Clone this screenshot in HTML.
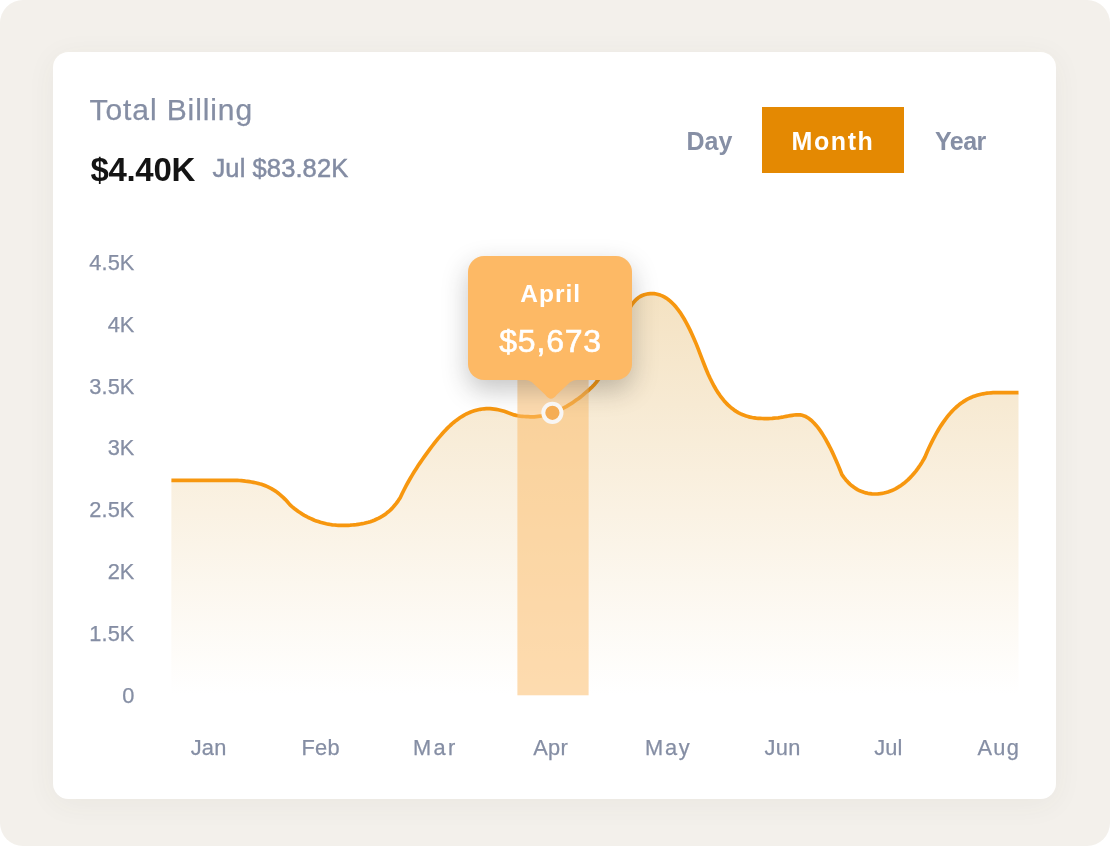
<!DOCTYPE html>
<html lang="en">
<head>
<meta charset="utf-8">
<title>Total Billing</title>
<style>
  html,body{margin:0;padding:0;background:#fff;}
  body{width:1110px;height:847px;position:relative;overflow:hidden;font-family:"Liberation Sans",sans-serif;}
  .bg{position:absolute;left:0;top:0;width:1109.5px;height:846.4px;background:#f3f0eb;border-radius:23px;}
  .card{position:absolute;left:52.9px;top:52.2px;width:1003.4px;height:747px;background:#fff;border-radius:15.5px;box-shadow:0 5px 30px rgba(70,65,50,0.055);}
  .t{position:absolute;white-space:nowrap;line-height:1;}
  .title{left:89.6px;top:95.3px;font-size:30px;color:#858ea4;letter-spacing:0.9px;-webkit-text-stroke:0.25px #858ea4;}
  .amount{left:90.4px;top:152.9px;font-size:33px;font-weight:bold;color:#141414;letter-spacing:-0.3px;}
  .sub{left:212.5px;top:155.9px;font-size:25.5px;color:#838ca3;letter-spacing:0.1px;-webkit-text-stroke:0.5px #838ca3;}
  .tab{font-size:25px;font-weight:bold;color:#868fa5;top:128.8px;}
  .tab.active{color:#fff;}
  .btn{position:absolute;left:761.8px;top:106.85px;width:142px;height:66.65px;background:#e48902;}
  .yl{font-size:21.8px;color:#858ea4;-webkit-text-stroke:0.25px #858ea4;text-align:right;width:60px;left:74.5px;letter-spacing:0.1px;}
  .xl{font-size:21.8px;color:#858ea4;-webkit-text-stroke:0.25px #858ea4;top:736.8px;letter-spacing:0.3px;transform:translateX(-50%);}
  svg{position:absolute;left:0;top:0;}
  .tip{position:absolute;left:468.4px;top:256.4px;width:163.65px;height:123.65px;background:#fdb965;border-radius:16px;box-shadow:0 10px 26px rgba(40,40,40,0.27);}
  .tipm{left:468.4px;width:163.65px;text-align:center;color:#fff;}
</style>
</head>
<body>
<div class="bg"></div>
<div class="card"></div>

<div class="t title">Total Billing</div>
<div class="t amount">$4.40K</div>
<div class="t sub">Jul $83.82K</div>

<div class="t tab" style="left:686.5px">Day</div>
<div class="btn"></div>
<div class="t tab active" style="left:791.5px;letter-spacing:1.6px">Month</div>
<div class="t tab" style="left:935px;letter-spacing:-0.5px">Year</div>

<div class="t yl" style="top:251.7px">4.5K</div>
<div class="t yl" style="top:313.6px">4K</div>
<div class="t yl" style="top:375.5px">3.5K</div>
<div class="t yl" style="top:437.4px">3K</div>
<div class="t yl" style="top:499.3px">2.5K</div>
<div class="t yl" style="top:561.2px">2K</div>
<div class="t yl" style="top:623.1px">1.5K</div>
<div class="t yl" style="top:685.0px">0</div>

<svg width="1110" height="847" viewBox="0 0 1110 847">
  <defs>
    <linearGradient id="ga" x1="0" y1="293" x2="0" y2="695" gradientUnits="userSpaceOnUse">
      <stop offset="0" stop-color="#f4e2c2"/>
      <stop offset="1" stop-color="#ffffff"/>
    </linearGradient>
  </defs>
  <path fill="url(#ga)" d="M171.4,480.4 L173.4,480.4 L175.4,480.4 L177.4,480.4 L179.4,480.4 L181.4,480.4 L183.4,480.4 L185.4,480.4 L187.4,480.4 L189.4,480.4 L191.4,480.4 L193.4,480.4 L195.4,480.4 L197.4,480.4 L199.4,480.4 L201.4,480.4 L203.4,480.4 L205.4,480.4 L207.4,480.4 L209.4,480.4 L211.4,480.4 L213.4,480.4 L215.4,480.4 L217.4,480.4 L219.4,480.4 L221.4,480.4 L223.4,480.4 L225.4,480.4 L227.4,480.4 L229.4,480.4 L231.4,480.4 L233.4,480.4 L235.4,480.4 L237.4,480.4 L239.4,480.5 L241.4,480.7 L243.4,480.9 L245.4,481.2 L247.4,481.4 L249.4,481.7 L251.4,482.0 L253.4,482.4 L255.4,482.8 L257.4,483.2 L259.4,483.8 L261.4,484.3 L263.4,485.0 L265.4,485.8 L267.4,486.6 L269.4,487.6 L271.4,488.6 L273.4,489.8 L275.4,491.1 L277.4,492.5 L279.4,494.1 L281.4,495.8 L283.4,497.6 L285.4,499.6 L287.4,501.8 L289.4,504.1 L290.3,505.2 L292.3,506.9 L294.3,508.5 L296.3,510.0 L298.3,511.5 L300.3,512.8 L302.3,514.1 L304.3,515.3 L306.3,516.4 L308.3,517.5 L310.3,518.4 L312.3,519.3 L314.3,520.2 L316.3,520.9 L318.3,521.6 L320.3,522.3 L322.3,522.8 L324.3,523.3 L326.3,523.8 L328.3,524.2 L330.3,524.5 L332.3,524.8 L334.3,525.0 L336.3,525.2 L338.3,525.3 L340.3,525.4 L342.3,525.4 L344.3,525.4 L346.3,525.4 L348.3,525.3 L350.3,525.2 L352.3,525.0 L354.3,524.8 L356.3,524.6 L358.3,524.3 L360.3,524.0 L362.3,523.7 L364.3,523.3 L366.3,522.8 L368.3,522.3 L370.3,521.7 L372.3,521.0 L374.3,520.2 L376.3,519.3 L378.3,518.4 L380.3,517.3 L382.3,516.2 L384.3,514.9 L386.3,513.4 L388.3,511.8 L390.3,510.1 L392.3,508.1 L394.3,505.8 L396.3,503.4 L398.3,500.6 L400.2,497.7 L402.2,493.5 L404.2,489.5 L406.2,485.7 L408.2,482.0 L410.2,478.5 L412.2,475.1 L414.2,471.8 L416.2,468.7 L418.2,465.6 L420.2,462.6 L422.2,459.7 L424.2,456.9 L426.2,454.1 L428.2,451.4 L430.2,448.7 L432.2,446.0 L434.2,443.4 L436.2,440.9 L438.2,438.4 L440.2,436.1 L442.2,433.8 L444.2,431.6 L446.2,429.4 L448.2,427.4 L450.2,425.5 L452.2,423.7 L454.2,422.0 L456.2,420.4 L458.2,418.9 L460.2,417.5 L462.2,416.3 L464.2,415.1 L466.2,414.0 L468.2,413.1 L470.2,412.2 L472.2,411.4 L474.2,410.8 L476.2,410.2 L478.2,409.7 L480.2,409.3 L482.2,409.0 L484.2,408.8 L486.2,408.7 L488.2,408.7 L490.2,408.7 L492.2,408.9 L494.2,409.1 L496.2,409.4 L498.2,409.8 L500.2,410.2 L502.2,410.7 L504.2,411.3 L506.2,412.0 L508.2,412.8 L510.2,413.5 L512.2,414.2 L514.2,414.9 L516.2,415.4 L518.2,415.8 L520.2,416.1 L522.2,416.3 L524.2,416.5 L526.2,416.6 L528.2,416.7 L530.2,416.8 L532.2,416.8 L534.2,416.8 L536.2,416.6 L538.2,416.4 L540.2,416.2 L542.2,415.8 L544.2,415.4 L546.2,414.9 L548.2,414.4 L550.2,413.8 L552.2,413.1 L554.2,412.3 L556.2,411.5 L558.2,410.6 L560.2,409.7 L562.2,408.7 L564.2,407.7 L566.2,406.6 L568.2,405.4 L570.2,404.2 L572.2,402.9 L574.2,401.5 L576.2,400.1 L578.2,398.7 L580.2,397.2 L582.2,395.6 L584.2,393.9 L586.2,392.2 L588.2,390.5 L590.2,388.7 L592.2,386.8 L594.2,384.7 L596.2,382.4 L598.2,379.7 L600.2,376.5 L602.2,372.8 L604.2,368.7 L606.2,364.3 L608.2,359.6 L610.2,354.6 L612.2,349.5 L614.2,344.3 L616.2,339.0 L618.2,333.8 L620.2,328.7 L622.2,323.8 L624.2,319.1 L626.2,314.8 L628.2,310.8 L630.2,307.2 L632.2,304.1 L634.2,301.6 L636.2,299.5 L638.2,297.8 L640.2,296.5 L642.2,295.5 L644.2,294.7 L646.2,294.2 L648.2,293.8 L650.2,293.6 L652.2,293.6 L654.2,293.7 L656.2,294.0 L658.2,294.5 L660.2,295.1 L662.2,295.9 L664.2,296.9 L666.2,298.1 L668.2,299.5 L670.2,301.1 L672.2,303.0 L674.2,305.0 L676.2,307.3 L678.2,309.9 L680.2,312.6 L682.2,315.7 L684.2,319.0 L686.2,322.6 L688.2,326.4 L690.2,330.4 L692.2,334.7 L694.2,339.2 L696.2,343.9 L698.2,348.9 L700.2,354.1 L702.2,359.3 L704.2,364.5 L706.2,369.5 L708.2,374.2 L710.2,378.5 L712.2,382.5 L714.2,386.3 L716.2,389.7 L718.2,392.9 L720.2,395.8 L722.2,398.4 L724.2,400.9 L726.2,403.1 L728.2,405.1 L730.2,406.9 L732.2,408.6 L734.2,410.1 L736.2,411.4 L738.2,412.6 L740.2,413.6 L742.2,414.5 L744.2,415.3 L746.2,416.0 L748.2,416.6 L750.2,417.1 L752.2,417.5 L754.2,417.8 L756.2,418.1 L758.2,418.3 L760.2,418.4 L762.2,418.5 L764.2,418.6 L766.2,418.6 L768.2,418.6 L770.2,418.5 L772.2,418.4 L774.2,418.2 L776.2,418.0 L778.2,417.8 L780.2,417.5 L782.2,417.2 L784.2,416.8 L786.2,416.4 L788.2,416.0 L790.2,415.6 L792.2,415.3 L794.2,415.0 L796.2,414.8 L798.2,414.8 L800.2,414.9 L802.2,415.3 L804.2,415.9 L806.2,416.8 L808.2,418.0 L810.2,419.5 L812.2,421.2 L814.2,423.2 L816.2,425.4 L818.2,427.9 L820.2,430.7 L822.2,433.6 L824.2,436.9 L826.2,440.3 L828.2,444.0 L830.2,447.8 L832.2,451.9 L834.2,456.2 L836.2,460.7 L838.2,465.4 L840.2,470.3 L841.9,474.6 L843.9,477.4 L845.9,479.9 L847.9,482.1 L849.9,484.1 L851.9,485.8 L853.9,487.3 L855.9,488.6 L857.9,489.8 L859.9,490.8 L861.9,491.6 L863.9,492.3 L865.9,492.9 L867.9,493.3 L869.9,493.6 L871.9,493.9 L873.9,494.0 L875.9,494.0 L877.9,493.9 L879.9,493.7 L881.9,493.4 L883.9,493.0 L885.9,492.5 L887.9,491.9 L889.9,491.2 L891.9,490.5 L893.9,489.6 L895.9,488.6 L897.9,487.4 L899.9,486.2 L901.9,484.8 L903.9,483.3 L905.9,481.6 L907.9,479.9 L909.9,477.9 L911.9,475.8 L913.9,473.5 L915.9,471.1 L917.9,468.4 L919.9,465.5 L921.9,462.4 L923.9,459.0 L925.0,457.0 L927.0,452.3 L929.0,447.8 L931.0,443.6 L933.0,439.6 L935.0,435.8 L937.0,432.2 L939.0,428.8 L941.0,425.6 L943.0,422.6 L945.0,419.8 L947.0,417.2 L949.0,414.7 L951.0,412.4 L953.0,410.3 L955.0,408.3 L957.0,406.5 L959.0,404.8 L961.0,403.3 L963.0,401.9 L965.0,400.6 L967.0,399.4 L969.0,398.4 L971.0,397.5 L973.0,396.6 L975.0,395.9 L977.0,395.3 L979.0,394.7 L981.0,394.2 L983.0,393.8 L985.0,393.5 L987.0,393.2 L989.0,393.0 L991.0,392.8 L993.0,392.7 L995.0,392.7 L997.0,392.7 L999.0,392.7 L1001.0,392.7 L1003.0,392.7 L1005.0,392.7 L1007.0,392.7 L1009.0,392.7 L1011.0,392.7 L1013.0,392.7 L1015.0,392.7 L1017.0,392.7 L1018.5,392.7 L1018.5,695.3 L171.3,695.3 Z"/>
  <path fill="none" stroke="#f7970f" stroke-width="3.7" stroke-linejoin="round" d="M171.4,480.4 L173.4,480.4 L175.4,480.4 L177.4,480.4 L179.4,480.4 L181.4,480.4 L183.4,480.4 L185.4,480.4 L187.4,480.4 L189.4,480.4 L191.4,480.4 L193.4,480.4 L195.4,480.4 L197.4,480.4 L199.4,480.4 L201.4,480.4 L203.4,480.4 L205.4,480.4 L207.4,480.4 L209.4,480.4 L211.4,480.4 L213.4,480.4 L215.4,480.4 L217.4,480.4 L219.4,480.4 L221.4,480.4 L223.4,480.4 L225.4,480.4 L227.4,480.4 L229.4,480.4 L231.4,480.4 L233.4,480.4 L235.4,480.4 L237.4,480.4 L239.4,480.5 L241.4,480.7 L243.4,480.9 L245.4,481.2 L247.4,481.4 L249.4,481.7 L251.4,482.0 L253.4,482.4 L255.4,482.8 L257.4,483.2 L259.4,483.8 L261.4,484.3 L263.4,485.0 L265.4,485.8 L267.4,486.6 L269.4,487.6 L271.4,488.6 L273.4,489.8 L275.4,491.1 L277.4,492.5 L279.4,494.1 L281.4,495.8 L283.4,497.6 L285.4,499.6 L287.4,501.8 L289.4,504.1 L290.3,505.2 L292.3,506.9 L294.3,508.5 L296.3,510.0 L298.3,511.5 L300.3,512.8 L302.3,514.1 L304.3,515.3 L306.3,516.4 L308.3,517.5 L310.3,518.4 L312.3,519.3 L314.3,520.2 L316.3,520.9 L318.3,521.6 L320.3,522.3 L322.3,522.8 L324.3,523.3 L326.3,523.8 L328.3,524.2 L330.3,524.5 L332.3,524.8 L334.3,525.0 L336.3,525.2 L338.3,525.3 L340.3,525.4 L342.3,525.4 L344.3,525.4 L346.3,525.4 L348.3,525.3 L350.3,525.2 L352.3,525.0 L354.3,524.8 L356.3,524.6 L358.3,524.3 L360.3,524.0 L362.3,523.7 L364.3,523.3 L366.3,522.8 L368.3,522.3 L370.3,521.7 L372.3,521.0 L374.3,520.2 L376.3,519.3 L378.3,518.4 L380.3,517.3 L382.3,516.2 L384.3,514.9 L386.3,513.4 L388.3,511.8 L390.3,510.1 L392.3,508.1 L394.3,505.8 L396.3,503.4 L398.3,500.6 L400.2,497.7 L402.2,493.5 L404.2,489.5 L406.2,485.7 L408.2,482.0 L410.2,478.5 L412.2,475.1 L414.2,471.8 L416.2,468.7 L418.2,465.6 L420.2,462.6 L422.2,459.7 L424.2,456.9 L426.2,454.1 L428.2,451.4 L430.2,448.7 L432.2,446.0 L434.2,443.4 L436.2,440.9 L438.2,438.4 L440.2,436.1 L442.2,433.8 L444.2,431.6 L446.2,429.4 L448.2,427.4 L450.2,425.5 L452.2,423.7 L454.2,422.0 L456.2,420.4 L458.2,418.9 L460.2,417.5 L462.2,416.3 L464.2,415.1 L466.2,414.0 L468.2,413.1 L470.2,412.2 L472.2,411.4 L474.2,410.8 L476.2,410.2 L478.2,409.7 L480.2,409.3 L482.2,409.0 L484.2,408.8 L486.2,408.7 L488.2,408.7 L490.2,408.7 L492.2,408.9 L494.2,409.1 L496.2,409.4 L498.2,409.8 L500.2,410.2 L502.2,410.7 L504.2,411.3 L506.2,412.0 L508.2,412.8 L510.2,413.5 L512.2,414.2 L514.2,414.9 L516.2,415.4 L518.2,415.8 L520.2,416.1 L522.2,416.3 L524.2,416.5 L526.2,416.6 L528.2,416.7 L530.2,416.8 L532.2,416.8 L534.2,416.8 L536.2,416.6 L538.2,416.4 L540.2,416.2 L542.2,415.8 L544.2,415.4 L546.2,414.9 L548.2,414.4 L550.2,413.8 L552.2,413.1 L554.2,412.3 L556.2,411.5 L558.2,410.6 L560.2,409.7 L562.2,408.7 L564.2,407.7 L566.2,406.6 L568.2,405.4 L570.2,404.2 L572.2,402.9 L574.2,401.5 L576.2,400.1 L578.2,398.7 L580.2,397.2 L582.2,395.6 L584.2,393.9 L586.2,392.2 L588.2,390.5 L590.2,388.7 L592.2,386.8 L594.2,384.7 L596.2,382.4 L598.2,379.7 L600.2,376.5 L602.2,372.8 L604.2,368.7 L606.2,364.3 L608.2,359.6 L610.2,354.6 L612.2,349.5 L614.2,344.3 L616.2,339.0 L618.2,333.8 L620.2,328.7 L622.2,323.8 L624.2,319.1 L626.2,314.8 L628.2,310.8 L630.2,307.2 L632.2,304.1 L634.2,301.6 L636.2,299.5 L638.2,297.8 L640.2,296.5 L642.2,295.5 L644.2,294.7 L646.2,294.2 L648.2,293.8 L650.2,293.6 L652.2,293.6 L654.2,293.7 L656.2,294.0 L658.2,294.5 L660.2,295.1 L662.2,295.9 L664.2,296.9 L666.2,298.1 L668.2,299.5 L670.2,301.1 L672.2,303.0 L674.2,305.0 L676.2,307.3 L678.2,309.9 L680.2,312.6 L682.2,315.7 L684.2,319.0 L686.2,322.6 L688.2,326.4 L690.2,330.4 L692.2,334.7 L694.2,339.2 L696.2,343.9 L698.2,348.9 L700.2,354.1 L702.2,359.3 L704.2,364.5 L706.2,369.5 L708.2,374.2 L710.2,378.5 L712.2,382.5 L714.2,386.3 L716.2,389.7 L718.2,392.9 L720.2,395.8 L722.2,398.4 L724.2,400.9 L726.2,403.1 L728.2,405.1 L730.2,406.9 L732.2,408.6 L734.2,410.1 L736.2,411.4 L738.2,412.6 L740.2,413.6 L742.2,414.5 L744.2,415.3 L746.2,416.0 L748.2,416.6 L750.2,417.1 L752.2,417.5 L754.2,417.8 L756.2,418.1 L758.2,418.3 L760.2,418.4 L762.2,418.5 L764.2,418.6 L766.2,418.6 L768.2,418.6 L770.2,418.5 L772.2,418.4 L774.2,418.2 L776.2,418.0 L778.2,417.8 L780.2,417.5 L782.2,417.2 L784.2,416.8 L786.2,416.4 L788.2,416.0 L790.2,415.6 L792.2,415.3 L794.2,415.0 L796.2,414.8 L798.2,414.8 L800.2,414.9 L802.2,415.3 L804.2,415.9 L806.2,416.8 L808.2,418.0 L810.2,419.5 L812.2,421.2 L814.2,423.2 L816.2,425.4 L818.2,427.9 L820.2,430.7 L822.2,433.6 L824.2,436.9 L826.2,440.3 L828.2,444.0 L830.2,447.8 L832.2,451.9 L834.2,456.2 L836.2,460.7 L838.2,465.4 L840.2,470.3 L841.9,474.6 L843.9,477.4 L845.9,479.9 L847.9,482.1 L849.9,484.1 L851.9,485.8 L853.9,487.3 L855.9,488.6 L857.9,489.8 L859.9,490.8 L861.9,491.6 L863.9,492.3 L865.9,492.9 L867.9,493.3 L869.9,493.6 L871.9,493.9 L873.9,494.0 L875.9,494.0 L877.9,493.9 L879.9,493.7 L881.9,493.4 L883.9,493.0 L885.9,492.5 L887.9,491.9 L889.9,491.2 L891.9,490.5 L893.9,489.6 L895.9,488.6 L897.9,487.4 L899.9,486.2 L901.9,484.8 L903.9,483.3 L905.9,481.6 L907.9,479.9 L909.9,477.9 L911.9,475.8 L913.9,473.5 L915.9,471.1 L917.9,468.4 L919.9,465.5 L921.9,462.4 L923.9,459.0 L925.0,457.0 L927.0,452.3 L929.0,447.8 L931.0,443.6 L933.0,439.6 L935.0,435.8 L937.0,432.2 L939.0,428.8 L941.0,425.6 L943.0,422.6 L945.0,419.8 L947.0,417.2 L949.0,414.7 L951.0,412.4 L953.0,410.3 L955.0,408.3 L957.0,406.5 L959.0,404.8 L961.0,403.3 L963.0,401.9 L965.0,400.6 L967.0,399.4 L969.0,398.4 L971.0,397.5 L973.0,396.6 L975.0,395.9 L977.0,395.3 L979.0,394.7 L981.0,394.2 L983.0,393.8 L985.0,393.5 L987.0,393.2 L989.0,393.0 L991.0,392.8 L993.0,392.7 L995.0,392.7 L997.0,392.7 L999.0,392.7 L1001.0,392.7 L1003.0,392.7 L1005.0,392.7 L1007.0,392.7 L1009.0,392.7 L1011.0,392.7 L1013.0,392.7 L1015.0,392.7 L1017.0,392.7 L1018.5,392.7"/>
  <rect x="517.4" y="300" width="71.2" height="395.3" fill="#fcbe6e" fill-opacity="0.55"/>
</svg>

<div class="tip"></div>
<svg width="1110" height="847" viewBox="0 0 1110 847">
  <path d="M522,379 L580,379 L580,379.8 L578,379.8 Q573,379.8 570,382.3 L556.5,395 Q551,402.5 545.5,395 L532,382.3 Q529,379.8 524,379.8 L522,379.8 Z" fill="#fdb965"/>
  <circle cx="552.4" cy="412.8" r="9.1" fill="#f5ad55" stroke="#f8f6f4" stroke-width="4"/>
</svg>
<div class="t tipm" style="top:281.9px;font-size:24.5px;font-weight:bold;letter-spacing:1px;text-indent:1px;">April</div>
<div class="t tipm" style="top:325.2px;font-size:32px;letter-spacing:0.8px;text-indent:0.8px;-webkit-text-stroke:0.6px #fff;">$5,673</div>

<div class="t xl" style="left:208.7px">Jan</div>
<div class="t xl" style="left:320.7px">Feb</div>
<div class="t xl" style="left:435.4px;letter-spacing:2.4px">Mar</div>
<div class="t xl" style="left:550.6px">Apr</div>
<div class="t xl" style="left:668.2px;letter-spacing:1.7px">May</div>
<div class="t xl" style="left:782.6px">Jun</div>
<div class="t xl" style="left:888.4px;letter-spacing:0.2px">Jul</div>
<div class="t xl" style="left:998.8px;letter-spacing:1.3px">Aug</div>
</body>
</html>
